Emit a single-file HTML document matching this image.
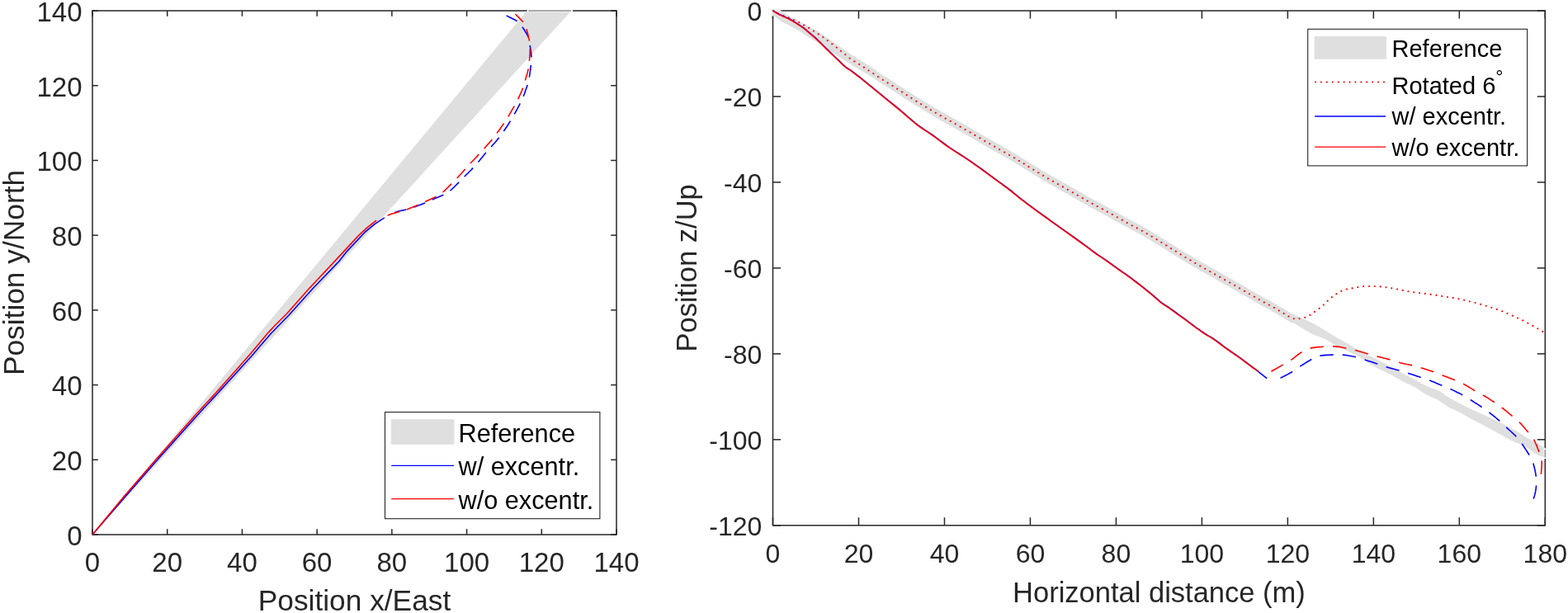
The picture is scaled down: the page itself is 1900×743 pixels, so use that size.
<!DOCTYPE html><html><head><meta charset="utf-8"><title>Figure</title><style>html,body{margin:0;padding:0;background:#fff;}body{width:1900px;height:743px;overflow:hidden;}svg{display:block;}text{font-family:"Liberation Sans",Arial,Helvetica,sans-serif;fill:#262626;}</style></head><body>
<svg width="1900" height="743" viewBox="0 0 1900 743">
<rect width="1900" height="743" fill="#fff"/>
<g stroke="#262626" stroke-width="1.5"><line x1="112.00" y1="648.0" x2="112.00" y2="641.2"/>
<line x1="112.00" y1="13.0" x2="112.00" y2="19.8"/>
<line x1="202.71" y1="648.0" x2="202.71" y2="641.2"/>
<line x1="202.71" y1="13.0" x2="202.71" y2="19.8"/>
<line x1="293.43" y1="648.0" x2="293.43" y2="641.2"/>
<line x1="293.43" y1="13.0" x2="293.43" y2="19.8"/>
<line x1="384.14" y1="648.0" x2="384.14" y2="641.2"/>
<line x1="384.14" y1="13.0" x2="384.14" y2="19.8"/>
<line x1="474.86" y1="648.0" x2="474.86" y2="641.2"/>
<line x1="474.86" y1="13.0" x2="474.86" y2="19.8"/>
<line x1="565.57" y1="648.0" x2="565.57" y2="641.2"/>
<line x1="565.57" y1="13.0" x2="565.57" y2="19.8"/>
<line x1="656.29" y1="648.0" x2="656.29" y2="641.2"/>
<line x1="656.29" y1="13.0" x2="656.29" y2="19.8"/>
<line x1="747.00" y1="648.0" x2="747.00" y2="641.2"/>
<line x1="747.00" y1="13.0" x2="747.00" y2="19.8"/>
<line x1="112.0" y1="648.00" x2="118.8" y2="648.00"/>
<line x1="747.0" y1="648.00" x2="740.2" y2="648.00"/>
<line x1="112.0" y1="557.29" x2="118.8" y2="557.29"/>
<line x1="747.0" y1="557.29" x2="740.2" y2="557.29"/>
<line x1="112.0" y1="466.57" x2="118.8" y2="466.57"/>
<line x1="747.0" y1="466.57" x2="740.2" y2="466.57"/>
<line x1="112.0" y1="375.86" x2="118.8" y2="375.86"/>
<line x1="747.0" y1="375.86" x2="740.2" y2="375.86"/>
<line x1="112.0" y1="285.14" x2="118.8" y2="285.14"/>
<line x1="747.0" y1="285.14" x2="740.2" y2="285.14"/>
<line x1="112.0" y1="194.43" x2="118.8" y2="194.43"/>
<line x1="747.0" y1="194.43" x2="740.2" y2="194.43"/>
<line x1="112.0" y1="103.71" x2="118.8" y2="103.71"/>
<line x1="747.0" y1="103.71" x2="740.2" y2="103.71"/>
<line x1="112.0" y1="13.00" x2="118.8" y2="13.00"/>
<line x1="747.0" y1="13.00" x2="740.2" y2="13.00"/></g>
<rect x="112.0" y="13.0" width="635.00" height="635.00" fill="none" stroke="#262626" stroke-width="1.5"/>
<polygon points="112.0,648.0 638.5,13.0 692.5,13.0" fill="#dfdfdf"/>
<rect x="638.9" y="11.8" width="55" height="2.6" fill="#fff"/>
<line x1="640.5" y1="13" x2="691.9" y2="13" stroke="#8e8e8e" stroke-width="1.5"/>
<line x1="640.5" y1="14.6" x2="691.5" y2="14.6" stroke="#ececec" stroke-width="1"/>
<polyline points="112.0,648.0 150.5,603.6 188.4,560.0 242.4,499.7 263.4,477.1 306.5,429.7 315.1,419.6 328.8,403.7 349.8,382.2 379.0,349.8 410.2,317.4 420.4,304.6 441.9,281.7 454.0,271.6 465.9,263.9" fill="none" stroke="#0000ff" stroke-width="1.6" stroke-linejoin="round"/>
<polyline points="112.0,648.0 150.0,602.0 186.3,560.0 239.7,499.7 261.2,476.5 302.7,429.7 311.3,419.6 325.1,403.1 333.1,394.5 347.7,380.0 374.5,349.8 404.9,317.4 434.6,285.4 444.6,276.2 456.0,267.2" fill="none" stroke="#ff0000" stroke-width="1.6" stroke-linejoin="round"/>
<polyline points="469.5,262.1 469.6,262.0 472.2,260.6 474.9,259.3 477.6,258.0 480.0,257.0 482.2,256.3 484.3,255.7 486.3,255.3 488.3,254.9 490.3,254.5 492.2,254.0 494.1,253.5 495.8,252.9 497.6,252.4 499.3,251.8 501.1,251.2 503.1,250.5 505.3,249.7 507.7,248.8 510.1,247.9 512.5,247.0 514.8,246.1 516.8,245.3 518.5,244.6 519.8,243.9 521.1,243.3 522.3,242.7 523.7,242.1 525.3,241.3 527.3,240.4 529.6,239.5 532.0,238.6 534.4,237.6 536.6,236.6 538.6,235.6 540.2,234.7 541.6,233.9 542.8,233.1 544.0,232.2 545.3,231.2 546.7,230.0 548.4,228.5 550.2,226.8 552.0,225.0 553.9,223.1 555.6,221.4 557.2,219.8 558.5,218.5 559.6,217.4 560.5,216.4 561.5,215.4 562.5,214.3 563.8,213.0 565.3,211.5 567.1,209.8 568.9,208.0 570.7,206.2 572.4,204.4 573.9,202.9 575.1,201.6 576.1,200.5 577.0,199.4 577.9,198.4 578.8,197.2 580.0,195.8 581.3,194.2 582.7,192.5 584.2,190.7 585.8,188.8 587.5,186.6 589.5,184.3 591.8,181.7 594.3,178.9 597.0,175.8 599.8,172.7 602.5,169.4 605.1,166.2 607.6,162.9 610.0,159.5 612.4,156.0 614.8,152.5 617.0,149.0 619.2,145.5 621.3,141.9 623.4,138.2 625.5,134.5 627.4,130.9 629.1,127.7 630.5,124.9 631.6,122.8 632.4,121.1 633.0,119.9 633.5,118.7 634.0,117.3 634.6,115.7 635.4,113.7 636.2,111.4 637.1,109.0 637.9,106.6 638.7,104.4 639.3,102.3 639.8,100.5 640.2,99.0 640.6,97.5 640.9,96.0 641.2,94.4 641.5,92.6 641.9,90.4 642.2,88.0 642.6,85.4 642.9,82.8 643.2,80.4 643.4,78.2 643.6,76.3 643.8,74.7 643.9,73.2 644.0,71.7 644.0,70.1 643.9,68.3 643.7,66.2 643.5,63.8 643.2,61.3 642.8,58.8 642.4,56.4 642.1,54.3 641.8,52.5 641.6,50.9 641.4,49.4 641.1,48.0 640.7,46.4 640.0,44.7 639.1,42.7 637.9,40.5 636.6,38.3 635.2,36.0 633.8,34.0 632.6,32.2 631.6,30.7 630.6,29.5 629.8,28.5 628.8,27.5 627.6,26.6 626.2,25.5 624.3,24.3 621.8,23.0 619.2,21.7 616.7,20.5 614.6,19.4 613.1,18.7" fill="none" stroke="#0000ff" stroke-width="1.6" stroke-dasharray="14.8 9.5" stroke-linejoin="round" stroke-dashoffset="14.8"/>
<polyline points="466.1,263.5 466.3,263.2 466.6,262.9 466.9,262.5 467.4,262.1 468.3,261.6 469.5,261.0 471.3,260.4 473.6,259.6 476.3,258.8 479.0,258.0 481.5,257.3 483.7,256.6 485.4,256.1 486.9,255.7 488.2,255.4 489.5,255.0 490.9,254.6 492.6,254.0 494.7,253.2 497.0,252.3 499.5,251.3 501.9,250.3 504.2,249.4 506.3,248.5 508.0,247.8 509.5,247.1 510.8,246.5 512.1,245.9 513.5,245.3 515.2,244.5 517.2,243.6 519.4,242.6 521.7,241.5 524.0,240.4 526.2,239.4 528.1,238.4 529.7,237.5 531.1,236.8 532.3,236.1 533.5,235.3 534.8,234.3 536.2,233.2 537.9,231.8 539.7,230.1 541.6,228.2 543.4,226.4 545.2,224.6 546.7,223.1 548.0,221.9 549.0,220.8 549.9,219.9 550.9,219.0 551.9,217.9 553.1,216.6 554.6,215.0 556.3,213.1 558.1,211.2 559.9,209.2 561.6,207.3 563.1,205.6 564.4,204.2 565.5,203.0 566.5,201.9 567.5,200.7 568.5,199.6 569.8,198.2 571.2,196.7 572.6,195.3 574.1,193.7 575.7,192.0 577.5,190.1 579.5,187.9 581.8,185.4 584.4,182.5 587.2,179.5 590.0,176.3 592.8,173.1 595.5,169.9 598.1,166.7 600.6,163.4 603.1,160.1 605.6,156.7 608.0,153.3 610.3,149.9 612.6,146.3 615.0,142.6 617.3,138.8 619.4,135.2 621.3,131.9 622.9,129.2 624.1,127.2 624.9,125.8 625.5,124.7 625.9,123.7 626.5,122.6 627.2,121.1 628.1,119.1 629.2,116.9 630.3,114.5 631.4,112.1 632.4,109.8 633.2,107.7 633.9,106.0 634.4,104.5 634.8,103.1 635.2,101.8 635.6,100.3 636.1,98.5 636.7,96.4 637.4,94.0 638.1,91.5 638.9,89.0 639.5,86.6 640.0,84.5 640.4,82.7 640.6,81.1 640.8,79.7 641.0,78.2 641.1,76.7 641.3,74.8 641.5,72.6 641.7,70.1 641.9,67.5 642.1,64.9 642.2,62.4 642.3,60.2 642.3,58.4 642.3,56.8 642.3,55.4 642.2,54.0 642.0,52.5 641.7,50.7 641.3,48.6 640.8,46.1 640.2,43.6 639.6,41.1 638.9,38.7 638.3,36.6 637.8,34.8 637.3,33.3 636.9,32.0 636.3,30.7 635.6,29.3 634.6,27.8 633.2,26.0 631.3,24.0 629.3,21.9 627.4,19.9 625.7,18.3 624.5,17.1" fill="none" stroke="#ff0000" stroke-width="1.6" stroke-dasharray="14.8 9.5" stroke-linejoin="round" stroke-dashoffset="20"/>
<g font-size="33.0"><text x="112.00" y="693.3" text-anchor="middle">0</text>
<text x="202.71" y="693.3" text-anchor="middle">20</text>
<text x="293.43" y="693.3" text-anchor="middle">40</text>
<text x="384.14" y="693.3" text-anchor="middle">60</text>
<text x="474.86" y="693.3" text-anchor="middle">80</text>
<text x="565.57" y="693.3" text-anchor="middle">100</text>
<text x="656.29" y="693.3" text-anchor="middle">120</text>
<text x="747.00" y="693.3" text-anchor="middle">140</text>
<text x="99.5" y="660.81" text-anchor="end">0</text>
<text x="99.5" y="570.10" text-anchor="end">20</text>
<text x="99.5" y="479.39" text-anchor="end">40</text>
<text x="99.5" y="388.67" text-anchor="end">60</text>
<text x="99.5" y="297.96" text-anchor="end">80</text>
<text x="99.5" y="207.24" text-anchor="end">100</text>
<text x="99.5" y="116.53" text-anchor="end">120</text>
<text x="99.5" y="25.81" text-anchor="end">140</text>
<text x="429.50" y="739.6" text-anchor="middle" font-size="35.3">Position x/East</text>
<text transform="translate(28.5,330.50) rotate(-90)" x="0" y="0" text-anchor="middle" font-size="35.3">Position y/North</text></g>
<rect x="466.5" y="499.5" width="260.4" height="129.2" fill="#fff" stroke="#262626" stroke-width="1.1"/>
<rect x="473.8" y="508.2" width="76.7" height="30.6" fill="#dfdfdf"/>
<line x1="474.2" y1="564.3" x2="549.9" y2="564.3" stroke="#0000ff" stroke-width="1.3"/>
<line x1="474.2" y1="604.7" x2="549.9" y2="604.7" stroke="#ff0000" stroke-width="1.3"/>
<g font-size="30.7" style="fill:#000"><text x="555.5" y="536" style="fill:#000">Reference</text><text x="555.5" y="576.4" style="fill:#000">w/ excentr.</text><text x="555.5" y="616.8" style="fill:#000">w/o excentr.</text></g>
<g stroke="#262626" stroke-width="1.5"><line x1="936.50" y1="636.8" x2="936.50" y2="627.1999999999999"/>
<line x1="936.50" y1="13.0" x2="936.50" y2="22.6"/>
<line x1="1040.48" y1="636.8" x2="1040.48" y2="627.1999999999999"/>
<line x1="1040.48" y1="13.0" x2="1040.48" y2="22.6"/>
<line x1="1144.46" y1="636.8" x2="1144.46" y2="627.1999999999999"/>
<line x1="1144.46" y1="13.0" x2="1144.46" y2="22.6"/>
<line x1="1248.43" y1="636.8" x2="1248.43" y2="627.1999999999999"/>
<line x1="1248.43" y1="13.0" x2="1248.43" y2="22.6"/>
<line x1="1352.41" y1="636.8" x2="1352.41" y2="627.1999999999999"/>
<line x1="1352.41" y1="13.0" x2="1352.41" y2="22.6"/>
<line x1="1456.39" y1="636.8" x2="1456.39" y2="627.1999999999999"/>
<line x1="1456.39" y1="13.0" x2="1456.39" y2="22.6"/>
<line x1="1560.37" y1="636.8" x2="1560.37" y2="627.1999999999999"/>
<line x1="1560.37" y1="13.0" x2="1560.37" y2="22.6"/>
<line x1="1664.34" y1="636.8" x2="1664.34" y2="627.1999999999999"/>
<line x1="1664.34" y1="13.0" x2="1664.34" y2="22.6"/>
<line x1="1768.32" y1="636.8" x2="1768.32" y2="627.1999999999999"/>
<line x1="1768.32" y1="13.0" x2="1768.32" y2="22.6"/>
<line x1="1872.30" y1="636.8" x2="1872.30" y2="627.1999999999999"/>
<line x1="1872.30" y1="13.0" x2="1872.30" y2="22.6"/>
<line x1="936.5" y1="13.00" x2="946.1" y2="13.00"/>
<line x1="1872.3" y1="13.00" x2="1862.7" y2="13.00"/>
<line x1="936.5" y1="116.97" x2="946.1" y2="116.97"/>
<line x1="1872.3" y1="116.97" x2="1862.7" y2="116.97"/>
<line x1="936.5" y1="220.93" x2="946.1" y2="220.93"/>
<line x1="1872.3" y1="220.93" x2="1862.7" y2="220.93"/>
<line x1="936.5" y1="324.90" x2="946.1" y2="324.90"/>
<line x1="1872.3" y1="324.90" x2="1862.7" y2="324.90"/>
<line x1="936.5" y1="428.87" x2="946.1" y2="428.87"/>
<line x1="1872.3" y1="428.87" x2="1862.7" y2="428.87"/>
<line x1="936.5" y1="532.83" x2="946.1" y2="532.83"/>
<line x1="1872.3" y1="532.83" x2="1862.7" y2="532.83"/>
<line x1="936.5" y1="636.80" x2="946.1" y2="636.80"/>
<line x1="1872.3" y1="636.80" x2="1862.7" y2="636.80"/></g>
<rect x="936.5" y="13.0" width="935.80" height="623.80" fill="none" stroke="#262626" stroke-width="1.5"/>
<clipPath id="cr"><rect x="936.5" y="13.0" width="935.80" height="623.80"/></clipPath>
<polygon points="935.0,12.0 947.1,13.2 955.2,18.9 967.3,25.3 979.4,31.8 991.5,38.3 1000.6,44.6 1010.7,51.4 1020.0,58.5 1030.0,65.0 1045.0,74.5 1060.4,84.3 1062.6,86.5 1063.4,87.0 1064.4,87.7 1065.7,88.5 1067.1,89.4 1068.7,90.4 1070.4,91.5 1072.3,92.6 1074.2,93.8 1076.2,95.1 1078.3,96.4 1080.3,97.7 1082.4,99.0 1084.5,100.3 1086.6,101.7 1088.8,103.2 1091.0,104.6 1093.3,106.1 1095.7,107.7 1098.1,109.2 1100.6,110.8 1103.1,112.5 1105.7,114.1 1108.4,115.8 1111.3,117.6 1114.3,119.4 1117.3,121.3 1120.4,123.2 1123.5,125.0 1126.6,126.9 1129.6,128.7 1132.4,130.4 1135.2,132.0 1137.8,133.5 1140.4,135.0 1142.8,136.4 1145.2,137.7 1147.6,139.0 1149.9,140.3 1152.2,141.6 1154.5,142.9 1156.8,144.2 1159.2,145.5 1161.6,146.9 1164.0,148.2 1166.4,149.6 1168.7,151.0 1171.1,152.3 1173.5,153.7 1175.9,155.1 1178.2,156.4 1180.6,157.8 1183.0,159.2 1185.4,160.6 1187.8,162.0 1190.2,163.4 1192.6,164.8 1194.9,166.2 1197.3,167.5 1199.7,168.9 1202.1,170.3 1204.5,171.7 1206.9,173.1 1209.3,174.5 1211.8,175.9 1214.3,177.3 1216.8,178.7 1219.2,180.1 1221.7,181.5 1224.1,182.9 1226.4,184.2 1228.7,185.5 1230.8,186.8 1232.8,188.0 1234.6,189.1 1236.4,190.2 1238.0,191.2 1239.6,192.2 1241.2,193.2 1242.9,194.3 1244.6,195.3 1246.4,196.5 1248.4,197.7 1250.5,199.0 1252.7,200.4 1255.1,201.8 1257.4,203.2 1259.9,204.7 1262.3,206.2 1264.8,207.7 1267.2,209.1 1269.7,210.6 1272.1,212.0 1274.5,213.4 1276.9,214.7 1279.3,216.1 1281.7,217.4 1284.1,218.8 1286.5,220.1 1288.9,221.5 1291.3,222.8 1293.7,224.1 1296.1,225.5 1298.5,226.9 1300.9,228.2 1303.3,229.6 1305.7,231.0 1308.0,232.4 1310.4,233.8 1312.8,235.1 1315.2,236.5 1317.6,237.9 1320.0,239.2 1322.4,240.5 1324.8,241.9 1327.3,243.2 1329.7,244.5 1332.1,245.8 1334.5,247.1 1336.9,248.4 1339.3,249.6 1341.7,250.9 1344.0,252.2 1346.3,253.5 1348.6,254.7 1350.8,256.0 1353.0,257.3 1355.2,258.5 1357.4,259.8 1359.6,261.0 1361.7,262.2 1363.9,263.4 1366.0,264.6 1368.1,265.7 1370.1,266.8 1372.1,267.9 1374.1,268.9 1376.1,270.0 1378.1,271.0 1380.1,272.1 1382.1,273.2 1384.2,274.4 1386.4,275.6 1388.6,276.9 1390.9,278.2 1393.3,279.6 1395.6,281.0 1398.0,282.5 1400.4,283.9 1402.8,285.4 1405.2,286.9 1407.6,288.3 1410.0,289.8 1412.3,291.3 1414.7,292.7 1417.0,294.2 1419.4,295.7 1421.7,297.2 1424.0,298.7 1426.4,300.1 1428.7,301.6 1431.0,303.1 1433.4,304.5 1435.8,305.9 1438.1,307.3 1440.5,308.7 1442.9,310.1 1445.3,311.5 1447.7,312.9 1450.0,314.3 1452.4,315.7 1454.8,317.0 1457.2,318.4 1459.6,319.8 1462.0,321.1 1464.4,322.4 1466.7,323.8 1469.1,325.1 1471.5,326.4 1473.9,327.8 1476.3,329.1 1478.7,330.5 1481.1,331.8 1483.5,333.2 1485.9,334.5 1488.3,335.9 1490.7,337.3 1493.1,338.6 1495.5,340.0 1497.9,341.4 1500.3,342.7 1502.7,344.1 1505.1,345.5 1507.5,346.9 1510.1,348.4 1512.6,349.9 1515.2,351.4 1517.7,352.9 1520.2,354.3 1522.6,355.7 1524.9,357.0 1527.0,358.2 1528.9,359.3 1530.6,360.2 1532.1,361.0 1533.4,361.7 1534.6,362.4 1535.7,362.9 1536.8,363.4 1537.8,364.0 1538.9,364.5 1539.9,365.1 1541.1,365.7 1542.3,366.4 1543.5,367.1 1544.7,367.8 1545.9,368.5 1547.1,369.3 1548.3,370.0 1549.5,370.7 1550.7,371.5 1551.9,372.2 1553.1,372.9 1554.3,373.6 1555.6,374.4 1556.9,375.2 1558.1,376.0 1559.4,376.7 1560.7,377.5 1561.9,378.2 1563.0,378.8 1564.0,379.4 1565.0,379.8 1566.9,380.5 1569.8,381.8 1574.0,383.7 1578.7,385.9 1583.1,388.0 1587.0,390.0 1590.9,392.0 1594.8,394.1 1599.2,396.6 1604.2,399.6 1609.6,402.9 1615.0,406.2 1620.0,409.2 1624.4,411.7 1628.4,413.9 1632.3,416.1 1636.2,418.3 1640.2,420.7 1644.3,423.2 1648.3,425.7 1652.3,428.0 1656.3,430.0 1660.4,431.8 1664.5,433.6 1668.5,435.5 1672.5,437.6 1676.6,439.7 1680.6,441.9 1684.6,444.1 1688.2,446.0 1691.6,447.8 1695.3,449.9 1700.0,452.4 1706.4,455.9 1714.0,460.1 1721.6,464.2 1728.0,467.5 1732.7,469.6 1736.5,470.9 1739.8,472.0 1743.1,473.4 1746.2,475.3 1749.0,477.3 1752.0,479.5 1756.0,482.0 1761.2,484.9 1767.1,488.2 1773.5,491.6 1780.0,494.8 1786.5,497.8 1793.3,500.8 1800.1,503.8 1806.9,506.9 1813.8,510.2 1820.9,513.7 1827.7,517.2 1833.8,520.4 1838.7,523.2 1842.7,525.8 1846.7,528.3 1851.3,531.1 1857.3,534.6 1864.2,538.5 1870.6,542.0 1875.0,544.5 1875.0,556.0 1872.4,555.0 1868.7,553.6 1864.6,551.9 1860.8,550.0 1857.4,547.8 1854.2,545.4 1850.8,542.8 1847.3,540.6 1843.6,538.9 1839.9,537.4 1835.8,535.9 1831.1,533.8 1825.7,530.9 1819.7,527.6 1813.3,524.0 1806.9,520.4 1800.0,516.7 1792.6,512.8 1785.6,509.2 1780.0,506.2 1776.4,504.2 1774.3,502.8 1772.5,501.7 1770.0,500.3 1766.5,498.7 1762.6,496.9 1758.6,495.2 1754.9,493.3 1751.8,491.3 1749.0,489.3 1746.2,487.2 1743.1,485.2 1739.5,483.4 1735.7,481.8 1731.8,480.1 1728.0,478.2 1724.4,476.0 1720.9,473.6 1717.5,471.2 1714.0,469.1 1710.5,467.3 1707.1,465.8 1703.6,464.3 1700.0,462.6 1696.4,460.6 1692.8,458.5 1688.9,456.2 1684.6,453.8 1679.5,451.3 1673.9,448.6 1668.2,445.8 1663.1,443.1 1658.9,440.5 1655.3,437.8 1651.6,435.2 1646.9,432.3 1640.7,429.1 1633.4,425.7 1626.2,422.4 1620.0,419.4 1615.4,416.9 1611.6,414.6 1608.2,412.5 1604.6,410.6 1600.7,408.9 1596.8,407.5 1592.8,406.0 1588.5,404.1 1583.4,401.2 1577.8,397.8 1572.7,394.5 1569.1,392.3 1565.0,391.0 1564.0,390.6 1563.0,390.0 1561.9,389.4 1560.7,388.7 1559.4,387.9 1558.1,387.2 1556.9,386.4 1555.6,385.6 1554.3,384.8 1553.1,384.1 1551.9,383.4 1550.7,382.7 1549.5,381.9 1548.3,381.2 1547.1,380.5 1545.9,379.7 1544.7,379.0 1543.5,378.3 1542.3,377.6 1541.1,376.9 1539.9,376.3 1538.9,375.7 1537.8,375.2 1536.8,374.6 1535.7,374.1 1534.6,373.6 1533.4,372.9 1532.1,372.2 1530.6,371.4 1528.9,370.5 1527.0,369.4 1524.9,368.2 1522.6,366.9 1520.2,365.5 1517.7,364.1 1515.2,362.6 1512.6,361.1 1510.1,359.6 1507.5,358.1 1505.1,356.7 1502.7,355.3 1500.3,353.9 1497.9,352.6 1495.5,351.2 1493.1,349.8 1490.7,348.5 1488.3,347.1 1485.9,345.7 1483.5,344.4 1481.1,343.0 1478.7,341.7 1476.3,340.3 1473.9,339.0 1471.5,337.6 1469.1,336.3 1466.7,335.0 1464.4,333.6 1462.0,332.3 1459.6,331.0 1457.2,329.6 1454.8,328.2 1452.4,326.9 1450.0,325.5 1447.7,324.1 1445.3,322.7 1442.9,321.3 1440.5,319.9 1438.1,318.5 1435.8,317.1 1433.4,315.7 1431.0,314.3 1428.7,312.8 1426.4,311.3 1424.0,309.9 1421.7,308.4 1419.4,306.9 1417.0,305.4 1414.7,303.9 1412.3,302.5 1410.0,301.0 1407.6,299.5 1405.2,298.1 1402.8,296.6 1400.4,295.1 1398.0,293.7 1395.6,292.2 1393.3,290.8 1390.9,289.4 1388.6,288.1 1386.4,286.8 1384.2,285.6 1382.1,284.4 1380.1,283.3 1378.1,282.2 1376.1,281.2 1374.1,280.1 1372.1,279.1 1370.1,278.0 1368.1,276.9 1366.0,275.8 1363.9,274.6 1361.7,273.4 1359.6,272.2 1357.4,271.0 1355.2,269.7 1353.0,268.5 1350.8,267.2 1348.6,265.9 1346.3,264.7 1344.0,263.4 1341.7,262.1 1339.3,260.8 1336.9,259.6 1334.5,258.3 1332.1,257.0 1329.7,255.7 1327.3,254.4 1324.8,253.1 1322.4,251.7 1320.0,250.4 1317.6,249.1 1315.2,247.7 1312.8,246.3 1310.4,245.0 1308.0,243.6 1305.7,242.2 1303.3,240.8 1300.9,239.4 1298.5,238.1 1296.1,236.7 1293.7,235.3 1291.3,234.0 1288.9,232.7 1286.5,231.3 1284.1,230.0 1281.7,228.6 1279.3,227.3 1276.9,225.9 1274.5,224.6 1272.1,223.2 1269.7,221.8 1267.2,220.3 1264.8,218.9 1262.3,217.4 1259.9,215.9 1257.4,214.4 1255.1,213.0 1252.7,211.6 1250.5,210.2 1248.4,208.9 1246.4,207.7 1244.6,206.5 1242.9,205.5 1241.2,204.4 1239.6,203.4 1238.0,202.4 1236.4,201.4 1234.6,200.3 1232.8,199.2 1230.8,198.0 1228.7,196.7 1226.4,195.4 1224.1,194.1 1221.7,192.7 1219.2,191.3 1216.8,189.9 1214.3,188.5 1211.8,187.1 1209.3,185.7 1206.9,184.3 1204.5,182.9 1202.1,181.5 1199.7,180.1 1197.3,178.7 1194.9,177.4 1192.6,176.0 1190.2,174.6 1187.8,173.2 1185.4,171.8 1183.0,170.4 1180.6,169.0 1178.2,167.6 1175.9,166.3 1173.5,164.9 1171.1,163.5 1168.7,162.2 1166.4,160.8 1164.0,159.4 1161.6,158.1 1159.2,156.7 1156.8,155.4 1154.5,154.1 1152.2,152.8 1149.9,151.5 1147.6,150.2 1145.2,148.9 1142.8,147.6 1140.4,146.2 1137.8,144.7 1135.2,143.2 1132.4,141.6 1129.6,139.9 1126.6,138.1 1123.5,136.2 1120.4,134.3 1117.3,132.5 1114.3,130.6 1111.3,128.8 1108.4,127.0 1105.7,125.3 1103.1,123.7 1100.6,122.0 1098.1,120.4 1095.7,118.9 1093.3,117.3 1091.0,115.8 1088.8,114.4 1086.6,112.9 1084.5,111.5 1082.4,110.2 1080.3,108.9 1078.3,107.6 1076.2,106.3 1074.2,105.0 1072.3,103.8 1070.4,102.7 1068.7,101.6 1067.1,100.6 1065.7,99.7 1064.4,98.9 1063.4,98.2 1062.6,97.7 1060.4,95.4 1040.0,83.5 1020.0,71.2 1005.0,61.0 991.5,52.0 979.4,44.7 967.3,36.7 955.2,30.2 947.1,26.2 935.0,17.0" fill="#dfdfdf" clip-path="url(#cr)"/>
<rect x="1870.6" y="543.5" width="3.4" height="12.5" fill="#fff"/>
<line x1="1872.3" y1="545" x2="1872.3" y2="554.5" stroke="#8e8e8e" stroke-width="1.5"/>
<rect x="935" y="11.5" width="11" height="3" fill="#e6e6e6"/>
<rect x="935" y="11.5" width="3" height="8" fill="#e6e6e6"/>
<polyline points="937.0,13.0 937.7,13.4 938.6,13.9 939.7,14.6 940.8,15.3 942.0,15.9 943.1,16.5 944.1,17.0 945.2,17.5 946.2,18.0 947.3,18.4 948.3,18.9 949.4,19.3 950.5,19.7 951.6,20.1 952.8,20.5 954.0,20.8 955.1,21.2 956.2,21.6 957.3,22.0 958.3,22.5 959.4,23.0 960.4,23.4 961.5,23.9 962.5,24.4 963.6,24.9 964.6,25.4 965.7,25.9 966.7,26.4 967.8,26.9 968.8,27.4 969.8,27.9 970.8,28.5 971.7,29.1 972.7,29.7 973.6,30.2 974.6,30.8 975.6,31.4 976.6,31.9 977.6,32.4 978.6,33.0 979.6,33.5 980.6,34.1 981.6,34.7 982.6,35.3 983.6,36.0 984.6,36.6 985.5,37.3 986.5,37.9 987.5,38.5 988.4,39.2 989.4,39.8 990.3,40.4 991.3,41.1 992.2,41.7 993.2,42.3 994.1,42.9 995.1,43.5 996.0,44.1 997.0,44.7 997.9,45.4 998.8,46.1 999.8,46.8 1000.7,47.5 1001.7,48.3 1002.6,49.0 1003.5,49.7 1004.4,50.4 1005.3,51.1 1006.2,51.8 1007.1,52.4 1008.0,53.1 1008.9,53.8 1009.8,54.5 1010.7,55.2 1011.6,55.9 1012.5,56.6 1013.4,57.3 1014.3,58.0 1015.2,58.7 1016.1,59.5 1017.0,60.2 1017.9,60.9 1018.8,61.7 1019.7,62.4 1020.6,63.1 1021.5,63.8 1022.4,64.5 1023.3,65.3 1024.2,66.0 1025.1,66.7 1026.0,67.4 1026.9,68.2 1027.7,69.0 1028.6,69.7 1029.5,70.5 1030.4,71.2 1031.3,71.9 1032.3,72.5 1033.2,73.2 1034.2,73.8 1035.1,74.4 1036.1,75.0 1037.1,75.6 1038.1,76.1 1039.1,76.7 1040.1,77.3 1041.1,77.8 1042.1,78.4 1043.1,79.0 1044.0,79.6 1045.0,80.3 1045.9,80.9 1046.8,81.6 1047.8,82.2 1048.8,82.8 1049.7,83.5 1050.7,84.2 1051.7,84.8 1052.6,85.5 1053.6,86.1 1054.6,86.7 1055.5,87.3 1056.5,87.9 1057.4,88.5 1058.4,89.1 1059.3,89.7 1060.0,90.2 1060.6,90.6 1061.1,91.0 1061.8,91.5 1062.8,92.3 1064.4,93.3 1066.6,94.7 1069.2,96.4 1072.3,98.2 1075.5,100.3 1078.9,102.4 1082.4,104.6 1085.9,106.9 1089.5,109.2 1093.3,111.7 1097.3,114.3 1101.4,117.0 1105.7,119.7 1110.3,122.6 1115.3,125.6 1120.4,128.8 1125.5,131.9 1130.5,134.8 1135.2,137.6 1139.5,140.1 1143.6,142.4 1147.6,144.6 1151.4,146.7 1155.3,148.9 1159.2,151.1 1163.2,153.4 1167.1,155.6 1171.1,157.9 1175.1,160.2 1179.0,162.5 1183.0,164.8 1187.0,167.1 1191.0,169.4 1194.9,171.8 1198.9,174.1 1202.9,176.4 1206.9,178.7 1211.0,181.0 1215.1,183.4 1219.2,185.7 1223.3,188.0 1227.2,190.3 1230.8,192.4 1234.0,194.3 1236.9,196.1 1239.6,197.8 1242.3,199.5 1245.2,201.3 1248.4,203.3 1252.0,205.5 1255.8,207.8 1259.9,210.3 1264.0,212.8 1268.1,215.2 1272.1,217.6 1276.1,219.9 1280.1,222.2 1284.1,224.4 1288.1,226.6 1292.1,228.8 1296.1,231.1 1300.1,233.4 1304.1,235.7 1308.0,238.0 1312.0,240.3 1316.0,242.6 1320.0,244.8 1324.0,247.0 1328.1,249.2 1332.1,251.4 1336.1,253.5 1340.1,255.7 1344.0,257.8 1347.8,259.9 1351.5,262.0 1355.2,264.1 1358.9,266.2 1362.4,268.2 1366.0,270.2 1369.5,272.1 1372.8,273.9 1376.1,275.6 1379.4,277.3 1382.8,279.2 1386.4,281.2 1390.2,283.4 1394.0,285.7 1398.0,288.1 1402.0,290.5 1406.0,293.0 1410.0,295.4 1413.9,297.8 1417.8,300.3 1421.7,302.8 1425.6,305.2 1429.5,307.7 1433.4,310.1 1437.3,312.5 1441.3,314.8 1445.3,317.1 1449.2,319.4 1453.2,321.7 1457.2,324.0 1461.2,326.3 1465.2,328.5 1469.1,330.7 1473.1,332.9 1477.1,335.2 1481.1,337.4 1485.1,339.7 1489.1,341.9 1493.1,344.2 1497.1,346.5 1501.1,348.8 1505.1,351.1 1509.2,353.5 1513.5,356.0 1517.7,358.5 1521.8,360.8 1525.6,363.0 1528.9,364.9 1531.6,366.4 1533.8,367.6 1535.7,368.5 1537.5,369.4 1539.2,370.3 1541.1,371.3 1543.1,372.5 1545.1,373.7 1547.1,374.9 1549.1,376.1 1551.1,377.3 1553.1,378.5 1555.2,379.7 1557.3,381.0 1559.4,382.3 1561.5,383.5 1563.3,384.6 1565.0,385.4 1566.4,385.9 1567.5,386.2 1568.4,386.4 1569.3,386.4 1570.2,386.4 1571.2,386.4 1572.3,386.4 1573.4,386.3 1574.5,386.2 1575.7,386.0 1576.8,385.8 1577.9,385.6 1579.0,385.4 1580.1,385.1 1581.3,384.8 1582.4,384.5 1583.5,384.1 1584.5,383.7 1585.5,383.2 1586.5,382.6 1587.4,381.9 1588.3,381.2 1589.3,380.5 1590.2,379.8 1591.1,379.1 1592.1,378.5 1593.0,377.8 1593.9,377.1 1594.9,376.5 1595.8,375.8 1596.7,375.1 1597.7,374.5 1598.6,373.8 1599.6,373.1 1600.5,372.4 1601.4,371.7 1602.3,370.9 1603.1,370.1 1603.9,369.3 1604.8,368.5 1605.6,367.7 1606.4,366.9 1607.2,366.1 1608.0,365.3 1608.8,364.5 1609.6,363.7 1610.4,363.0 1611.3,362.2 1612.2,361.5 1613.1,360.7 1614.0,360.0 1614.9,359.3 1615.9,358.6 1616.8,357.9 1617.7,357.3 1618.7,356.6 1619.7,356.0 1620.6,355.4 1621.6,354.9 1622.6,354.3 1623.6,353.7 1624.6,353.2 1625.6,352.7 1626.6,352.2 1627.6,351.7 1628.7,351.3 1629.8,351.0 1630.9,350.7 1632.1,350.5 1633.2,350.3 1634.4,350.1 1635.5,349.9 1636.6,349.7 1637.8,349.5 1639.0,349.3 1640.1,349.1 1641.3,348.9 1642.4,348.7 1643.5,348.5 1644.6,348.2 1645.7,348.0 1646.8,347.8 1647.9,347.6 1649.0,347.4 1650.1,347.3 1651.3,347.2 1652.4,347.1 1653.6,347.1 1654.7,347.0 1655.9,347.0 1657.1,347.0 1658.2,347.0 1659.4,347.0 1660.6,347.0 1661.7,347.0 1662.9,347.0 1664.0,347.0 1665.2,347.0 1666.3,347.0 1667.4,347.0 1668.6,347.0 1669.7,347.1 1670.8,347.2 1672.0,347.3 1673.2,347.4 1674.3,347.5 1675.5,347.7 1676.6,347.8 1677.7,348.0 1678.9,348.1 1680.0,348.3 1681.1,348.5 1682.3,348.7 1683.4,348.9 1684.5,349.1 1685.7,349.2 1686.8,349.4 1687.9,349.5 1689.1,349.7 1690.2,349.9 1691.3,350.1 1692.2,350.3 1693.2,350.5 1694.2,350.7 1695.5,351.0 1697.0,351.3 1698.9,351.7 1701.0,352.1 1703.4,352.6 1705.8,353.1 1708.3,353.5 1710.6,353.9 1712.9,354.2 1715.1,354.5 1717.4,354.7 1719.7,355.0 1721.9,355.2 1724.2,355.5 1726.5,355.8 1728.8,356.1 1731.0,356.5 1733.3,356.8 1735.6,357.2 1737.9,357.5 1740.2,357.8 1742.4,358.2 1744.7,358.5 1747.0,358.9 1749.2,359.2 1751.5,359.6 1753.8,360.0 1756.0,360.3 1758.3,360.6 1760.6,361.0 1762.8,361.4 1765.1,361.8 1767.4,362.3 1769.6,362.8 1771.9,363.3 1774.1,363.8 1776.4,364.4 1778.6,364.9 1780.8,365.4 1783.1,366.0 1785.3,366.5 1787.5,367.0 1789.7,367.6 1791.9,368.2 1794.1,368.8 1796.3,369.5 1798.5,370.1 1800.7,370.8 1802.9,371.5 1805.1,372.2 1807.3,372.9 1809.5,373.6 1811.7,374.3 1813.9,375.0 1816.0,375.7 1818.2,376.5 1820.3,377.3 1822.5,378.2 1824.6,379.1 1826.7,380.0 1828.8,381.0 1830.9,381.9 1833.0,382.8 1835.1,383.7 1837.2,384.6 1839.3,385.6 1841.3,386.5 1843.4,387.5 1845.4,388.5 1847.4,389.5 1849.4,390.6 1851.5,391.7 1853.5,392.8 1855.7,394.0 1858.1,395.4 1860.8,396.9 1863.6,398.5 1866.2,400.0 1868.4,401.3 1870.0,402.2" fill="none" stroke="#ff0000" stroke-width="2.1" stroke-dasharray="0.01 6.85" stroke-linejoin="round" stroke-linecap="round"/>
<polyline points="936.6,13.2 937.2,13.6 938.0,14.1 938.9,14.7 940.0,15.3 941.0,16.0 942.1,16.6 943.2,17.2 944.3,17.7 945.5,18.3 946.7,18.8 947.9,19.4 949.1,19.9 950.3,20.4 951.5,21.0 952.6,21.5 953.8,22.0 955.0,22.6 956.2,23.2 957.4,23.8 958.6,24.5 959.8,25.2 960.9,25.9 962.1,26.7 963.3,27.4 964.5,28.1 965.7,28.9 966.9,29.7 968.1,30.5 969.2,31.2 970.3,31.9 971.3,32.5 972.1,33.1 973.0,33.7 973.8,34.3 974.6,34.9 975.4,35.5 976.2,36.1 976.9,36.7 977.6,37.4 978.4,38.1 979.4,38.9 980.5,39.9 981.9,41.1 983.5,42.4 985.2,43.9 987.0,45.4 988.8,47.0 990.5,48.6 992.0,50.1 993.4,51.4 994.8,52.8 996.3,54.4 998.2,56.3 1000.6,58.6 1003.8,61.7 1007.6,65.4 1011.8,69.5 1016.0,73.5 1019.7,77.1 1022.7,79.8 1024.7,81.6 1026.0,82.6 1027.0,83.2 1027.8,83.6 1028.7,84.2 1030.2,85.2 1032.1,86.7 1034.3,88.3 1036.7,90.1 1039.2,92.0 1041.7,94.0 1044.2,96.0 1046.6,97.9 1048.8,99.7 1051.1,101.6 1053.6,103.6 1056.5,106.0 1060.0,108.9 1064.4,112.4 1069.5,116.6 1075.0,121.1 1080.6,125.7 1086.0,130.0 1090.7,133.9 1094.8,137.3 1098.5,140.6 1102.0,143.6 1105.3,146.5 1108.5,149.1 1111.7,151.7 1114.8,154.0 1117.8,156.0 1120.6,157.9 1123.4,159.7 1126.4,161.7 1129.5,163.8 1132.8,166.2 1136.1,168.6 1139.5,171.2 1143.0,173.8 1146.7,176.5 1150.5,179.2 1154.6,181.9 1158.9,184.7 1163.3,187.5 1167.9,190.4 1172.4,193.4 1176.9,196.4 1181.4,199.6 1186.1,202.9 1190.7,206.3 1195.3,209.7 1199.7,212.9 1203.8,215.9 1207.5,218.6 1210.9,221.1 1214.1,223.4 1217.3,225.8 1220.6,228.2 1224.0,230.8 1227.2,233.3 1229.9,235.6 1232.7,237.9 1236.1,240.7 1240.7,244.2 1246.9,248.9 1255.8,255.4 1267.0,263.5 1279.4,272.4 1291.7,281.2 1302.7,289.0 1311.0,295.0 1316.4,298.9 1319.7,301.4 1321.7,302.9 1323.0,304.0 1324.3,304.9 1326.2,306.3 1328.6,308.0 1330.9,309.6 1333.2,311.1 1335.5,312.6 1337.7,314.1 1340.0,315.7 1342.3,317.3 1344.5,318.9 1346.8,320.5 1349.0,322.2 1351.3,323.8 1353.5,325.4 1355.7,327.0 1358.0,328.5 1360.2,330.1 1362.5,331.6 1364.7,333.2 1366.9,334.8 1369.1,336.4 1371.3,338.0 1373.4,339.7 1375.6,341.3 1377.8,343.0 1380.0,344.7 1382.2,346.4 1384.5,348.2 1386.7,350.0 1389.0,351.8 1391.3,353.7 1393.5,355.5 1395.8,357.4 1398.2,359.5 1400.5,361.5 1402.8,363.5 1405.0,365.3 1406.9,366.9 1408.4,368.1 1409.6,368.8 1410.6,369.5 1411.7,370.1 1413.1,371.0 1415.0,372.3 1417.6,374.1 1420.7,376.3 1424.1,378.8 1427.5,381.3 1430.8,383.7 1433.8,385.8 1436.4,387.7 1438.7,389.4 1440.9,391.1 1443.0,392.7 1445.1,394.3 1447.3,395.9 1449.6,397.6 1452.0,399.2 1454.3,400.9 1456.6,402.5 1458.8,404.0 1460.8,405.3 1462.5,406.4 1463.9,407.2 1465.2,407.9 1466.6,408.6 1468.1,409.6 1470.0,410.8 1472.3,412.4 1474.9,414.3 1477.6,416.3 1480.5,418.5 1483.3,420.6 1486.1,422.6 1488.8,424.5 1491.6,426.5 1494.4,428.4 1497.1,430.3 1499.8,432.1 1502.3,433.9 1504.7,435.6 1507.0,437.4 1509.2,439.0 1511.3,440.6 1513.3,442.2 1515.2,443.6 1517.1,445.0 1519.0,446.4 1520.9,447.7 1522.5,448.9 1523.9,449.9 1524.9,450.6" fill="none" stroke="#0000ff" stroke-width="1.6" stroke-linejoin="round" transform="translate(0.3,-0.3)"/>
<polyline points="1524.9,450.6 1535.1,458.7" fill="none" stroke="#0000ff" stroke-width="1.6" stroke-linejoin="round"/>
<polyline points="936.6,13.2 937.2,13.6 938.0,14.1 938.9,14.7 940.0,15.3 941.0,16.0 942.1,16.6 943.2,17.2 944.3,17.7 945.5,18.3 946.7,18.8 947.9,19.4 949.1,19.9 950.3,20.4 951.5,21.0 952.6,21.5 953.8,22.0 955.0,22.6 956.2,23.2 957.4,23.8 958.6,24.5 959.8,25.2 960.9,25.9 962.1,26.7 963.3,27.4 964.5,28.1 965.7,28.9 966.9,29.7 968.1,30.5 969.2,31.2 970.3,31.9 971.3,32.5 972.1,33.1 973.0,33.7 973.8,34.3 974.6,34.9 975.4,35.5 976.2,36.1 976.9,36.7 977.6,37.4 978.4,38.1 979.4,38.9 980.5,39.9 981.9,41.1 983.5,42.4 985.2,43.9 987.0,45.4 988.8,47.0 990.5,48.6 992.0,50.1 993.4,51.4 994.8,52.8 996.3,54.4 998.2,56.3 1000.6,58.6 1003.8,61.7 1007.6,65.4 1011.8,69.5 1016.0,73.5 1019.7,77.1 1022.7,79.8 1024.7,81.6 1026.0,82.6 1027.0,83.2 1027.8,83.6 1028.7,84.2 1030.2,85.2 1032.1,86.7 1034.3,88.3 1036.7,90.1 1039.2,92.0 1041.7,94.0 1044.2,96.0 1046.6,97.9 1048.8,99.7 1051.1,101.6 1053.6,103.6 1056.5,106.0 1060.0,108.9 1064.4,112.4 1069.5,116.6 1075.0,121.1 1080.6,125.7 1086.0,130.0 1090.7,133.9 1094.8,137.3 1098.5,140.6 1102.0,143.6 1105.3,146.5 1108.5,149.1 1111.7,151.7 1114.8,154.0 1117.8,156.0 1120.6,157.9 1123.4,159.7 1126.4,161.7 1129.5,163.8 1132.8,166.2 1136.1,168.6 1139.5,171.2 1143.0,173.8 1146.7,176.5 1150.5,179.2 1154.6,181.9 1158.9,184.7 1163.3,187.5 1167.9,190.4 1172.4,193.4 1176.9,196.4 1181.4,199.6 1186.1,202.9 1190.7,206.3 1195.3,209.7 1199.7,212.9 1203.8,215.9 1207.5,218.6 1210.9,221.1 1214.1,223.4 1217.3,225.8 1220.6,228.2 1224.0,230.8 1227.2,233.3 1229.9,235.6 1232.7,237.9 1236.1,240.7 1240.7,244.2 1246.9,248.9 1255.8,255.4 1267.0,263.5 1279.4,272.4 1291.7,281.2 1302.7,289.0 1311.0,295.0 1316.4,298.9 1319.7,301.4 1321.7,302.9 1323.0,304.0 1324.3,304.9 1326.2,306.3 1328.6,308.0 1330.9,309.6 1333.2,311.1 1335.5,312.6 1337.7,314.1 1340.0,315.7 1342.3,317.3 1344.5,318.9 1346.8,320.5 1349.0,322.2 1351.3,323.8 1353.5,325.4 1355.7,327.0 1358.0,328.5 1360.2,330.1 1362.5,331.6 1364.7,333.2 1366.9,334.8 1369.1,336.4 1371.3,338.0 1373.4,339.7 1375.6,341.3 1377.8,343.0 1380.0,344.7 1382.2,346.4 1384.5,348.2 1386.7,350.0 1389.0,351.8 1391.3,353.7 1393.5,355.5 1395.8,357.4 1398.2,359.5 1400.5,361.5 1402.8,363.5 1405.0,365.3 1406.9,366.9 1408.4,368.1 1409.6,368.8 1410.6,369.5 1411.7,370.1 1413.1,371.0 1415.0,372.3 1417.6,374.1 1420.7,376.3 1424.1,378.8 1427.5,381.3 1430.8,383.7 1433.8,385.8 1436.4,387.7 1438.7,389.4 1440.9,391.1 1443.0,392.7 1445.1,394.3 1447.3,395.9 1449.6,397.6 1452.0,399.2 1454.3,400.9 1456.6,402.5 1458.8,404.0 1460.8,405.3 1462.5,406.4 1463.9,407.2 1465.2,407.9 1466.6,408.6 1468.1,409.6 1470.0,410.8 1472.3,412.4 1474.9,414.3 1477.6,416.3 1480.5,418.5 1483.3,420.6 1486.1,422.6 1488.8,424.5 1491.6,426.5 1494.4,428.4 1497.1,430.3 1499.8,432.1 1502.3,433.9 1504.7,435.6 1507.0,437.4 1509.2,439.0 1511.3,440.6 1513.3,442.2 1515.2,443.6 1517.1,445.0 1519.0,446.4 1520.9,447.7 1522.5,448.9 1523.9,449.9 1524.9,450.6" fill="none" stroke="#ff0000" stroke-width="1.6" stroke-linejoin="round"/>
<polyline points="1551.6,458.2 1553.0,457.5 1555.1,456.4 1557.4,455.2 1560.0,453.9 1562.5,452.5 1564.8,451.2 1566.9,449.9 1568.9,448.6 1570.9,447.2 1572.9,445.8 1574.9,444.4 1576.9,443.1 1579.0,441.8 1581.2,440.4 1583.4,439.0 1585.5,437.7 1587.6,436.5 1589.5,435.4 1591.2,434.5 1592.7,433.7 1594.1,432.9 1595.6,432.3 1597.2,431.8 1599.2,431.3 1601.6,430.9 1604.5,430.6 1607.5,430.4 1610.5,430.2 1613.4,430.1 1615.9,430.0 1618.0,429.9 1619.8,429.8 1621.5,429.8 1623.1,429.8 1624.9,429.9 1627.0,430.1 1629.5,430.4 1632.2,430.8 1635.1,431.2 1637.9,431.8 1640.7,432.3 1643.1,432.8 1645.2,433.3 1646.9,433.8 1648.5,434.3 1650.1,434.8 1651.9,435.4 1653.9,436.1 1656.3,436.9 1658.9,437.7 1661.7,438.6 1664.5,439.6 1667.2,440.4 1669.5,441.2 1671.5,441.9 1673.1,442.4 1674.6,443.0 1676.1,443.5 1677.8,444.1 1679.8,444.7 1682.2,445.4 1684.9,446.2 1687.8,447.0 1690.7,447.8 1693.5,448.5 1695.9,449.2 1697.9,449.8 1699.7,450.3 1701.2,450.8 1702.8,451.2 1704.5,451.8 1706.5,452.4 1708.9,453.2 1711.5,454.1 1714.3,455.0 1717.1,455.9 1719.8,456.8 1722.1,457.6 1724.1,458.2 1725.7,458.8 1727.2,459.2 1728.7,459.7 1730.3,460.3 1732.3,461.0 1734.6,461.9 1737.3,463.0 1740.1,464.2 1742.9,465.4 1745.5,466.5 1747.9,467.5 1749.9,468.3 1751.5,469.0 1753.0,469.6 1754.5,470.2 1756.2,470.9 1758.1,471.8 1760.4,472.9 1763.0,474.1 1765.7,475.5 1768.5,476.8 1771.0,478.1 1773.2,479.3 1775.0,480.3 1776.4,481.1 1777.7,481.9 1778.9,482.7 1780.3,483.6 1782.0,484.7 1784.1,486.0 1786.5,487.6 1789.1,489.2 1791.7,490.9 1794.1,492.5 1796.2,493.9 1797.9,495.1 1799.3,496.0 1800.6,496.9 1801.9,497.9 1803.3,498.9 1804.9,500.2 1806.9,501.8 1809.2,503.6 1811.6,505.5 1813.9,507.5 1816.2,509.3 1818.1,511.0 1819.7,512.4 1820.9,513.6 1822.0,514.7 1823.1,515.8 1824.3,517.0 1825.8,518.4 1827.6,520.1 1829.7,522.0 1831.9,524.0 1834.1,526.1 1836.2,528.0 1837.9,529.8 1839.3,531.3 1840.3,532.6 1841.3,533.7 1842.1,535.0 1843.1,536.4 1844.3,538.1 1845.8,540.2 1847.4,542.7 1849.2,545.4 1850.9,548.0 1852.5,550.5 1853.8,552.7 1854.8,554.4 1855.6,555.7 1856.2,556.9 1856.7,558.1 1857.2,559.5 1857.8,561.4 1858.5,563.7 1859.2,566.5 1859.9,569.4 1860.5,572.4 1861.0,575.4 1861.4,578.2 1861.6,580.9 1861.7,583.5 1861.6,586.1 1861.5,588.6 1861.3,591.1 1861.0,593.5 1860.6,595.9 1860.0,598.5 1859.4,600.9 1858.7,603.1 1858.2,605.0 1857.8,606.4" fill="none" stroke="#0000ff" stroke-width="1.6" stroke-dasharray="16.5 11" stroke-linejoin="round"/>
<polyline points="1540.5,450.2 1542.1,449.3 1544.3,448.0 1547.0,446.5 1549.8,444.9 1552.4,443.4 1554.7,442.1 1556.5,441.0 1558.2,440.1 1559.7,439.3 1561.1,438.4 1562.7,437.5 1564.5,436.3 1566.5,434.8 1568.7,433.1 1571.0,431.3 1573.3,429.5 1575.6,427.9 1577.7,426.5 1579.7,425.4 1581.5,424.5 1583.3,423.7 1585.1,423.0 1587.0,422.4 1589.0,421.9 1591.2,421.4 1593.5,421.1 1595.9,420.8 1598.3,420.6 1600.7,420.5 1603.1,420.3 1605.4,420.1 1607.8,420.0 1610.1,419.9 1612.5,419.8 1614.8,419.8 1617.2,419.9 1619.6,420.1 1622.2,420.4 1624.7,420.8 1627.2,421.3 1629.6,421.7 1631.8,422.1 1633.8,422.5 1635.5,422.8 1637.1,423.1 1638.8,423.5 1640.6,424.0 1642.6,424.5 1645.0,425.2 1647.6,425.9 1650.4,426.8 1653.2,427.6 1655.8,428.4 1658.2,429.1 1660.2,429.7 1662.0,430.2 1663.6,430.6 1665.2,431.1 1666.9,431.6 1669.0,432.1 1671.4,432.7 1674.0,433.3 1676.8,434.0 1679.6,434.7 1682.4,435.4 1685.1,436.1 1687.7,436.8 1690.3,437.6 1692.8,438.4 1695.3,439.2 1697.7,439.9 1700.0,440.5 1702.2,441.0 1704.2,441.5 1706.2,441.8 1708.1,442.2 1710.0,442.6 1711.8,443.0 1713.5,443.4 1715.1,443.9 1716.7,444.3 1718.3,444.7 1720.1,445.3 1722.1,445.9 1724.5,446.6 1727.3,447.5 1730.2,448.4 1733.1,449.4 1735.8,450.3 1738.2,451.1 1740.2,451.8 1741.8,452.4 1743.2,453.0 1744.7,453.7 1746.3,454.3 1748.2,455.1 1750.6,456.0 1753.3,457.0 1756.2,458.1 1759.0,459.2 1761.7,460.3 1764.1,461.2 1766.0,462.0 1767.7,462.7 1769.1,463.3 1770.6,464.0 1772.1,464.7 1773.8,465.6 1775.7,466.7 1777.8,467.9 1780.0,469.2 1782.2,470.6 1784.4,471.9 1786.5,473.2 1788.6,474.4 1790.6,475.5 1792.6,476.6 1794.7,477.7 1796.7,478.8 1798.8,480.0 1801.0,481.3 1803.2,482.7 1805.4,484.2 1807.6,485.6 1809.7,487.0 1811.6,488.3 1813.2,489.4 1814.7,490.4 1816.0,491.2 1817.3,492.2 1818.7,493.2 1820.4,494.5 1822.4,496.1 1824.7,497.9 1827.1,499.9 1829.4,501.8 1831.7,503.7 1833.6,505.3 1835.2,506.6 1836.5,507.7 1837.7,508.7 1838.9,509.7 1840.1,510.8 1841.6,512.3 1843.3,514.1 1845.2,516.3 1847.2,518.6 1849.2,520.9 1851.1,523.1 1852.7,525.1 1854.0,526.7 1855.2,528.1 1856.2,529.3 1857.1,530.5 1858.1,532.0 1859.1,533.8 1860.2,536.0 1861.4,538.6 1862.5,541.4 1863.6,544.2 1864.6,546.9 1865.5,549.3 1866.2,551.3 1866.8,553.1 1867.3,554.7 1867.7,556.3 1868.0,558.0 1868.2,560.1 1868.2,562.7 1868.1,565.7 1867.9,568.8 1867.6,571.8 1867.4,574.4 1867.2,576.2" fill="none" stroke="#ff0000" stroke-width="1.6" stroke-dasharray="16.5 11" stroke-linejoin="round"/>
<g font-size="32.0"><text x="936.50" y="681.8" text-anchor="middle">0</text>
<text x="1040.48" y="681.8" text-anchor="middle">20</text>
<text x="1144.46" y="681.8" text-anchor="middle">40</text>
<text x="1248.43" y="681.8" text-anchor="middle">60</text>
<text x="1352.41" y="681.8" text-anchor="middle">80</text>
<text x="1456.39" y="681.8" text-anchor="middle">100</text>
<text x="1560.37" y="681.8" text-anchor="middle">120</text>
<text x="1664.34" y="681.8" text-anchor="middle">140</text>
<text x="1768.32" y="681.8" text-anchor="middle">160</text>
<text x="1872.30" y="681.8" text-anchor="middle">180</text>
<text x="923.3" y="25.46" text-anchor="end">0</text>
<text x="923.3" y="129.42" text-anchor="end">-20</text>
<text x="923.3" y="233.39" text-anchor="end">-40</text>
<text x="923.3" y="337.36" text-anchor="end">-60</text>
<text x="923.3" y="441.32" text-anchor="end">-80</text>
<text x="923.3" y="545.29" text-anchor="end">-100</text>
<text x="923.3" y="649.26" text-anchor="end">-120</text>
<text x="1404.40" y="729.5" text-anchor="middle" font-size="34.5">Horizontal distance (m)</text>
<text transform="translate(844.2,324.90) rotate(-90)" x="0" y="0" text-anchor="middle" font-size="34.5">Position z/Up</text></g>
<rect x="1584.7" y="35.3" width="265.9" height="165.6" fill="#fff" stroke="#262626" stroke-width="1.1"/>
<rect x="1592.7" y="44.1" width="87.3" height="27.6" fill="#dfdfdf"/>
<line x1="1594.05" y1="99.5" x2="1678" y2="99.5" stroke="#ff0000" stroke-width="2.2" stroke-linecap="round" stroke-dasharray="0.01 6.9"/>
<line x1="1593.2" y1="141" x2="1679" y2="141" stroke="#0000ff" stroke-width="1.3"/>
<line x1="1593.2" y1="178.1" x2="1679" y2="178.1" stroke="#ff0000" stroke-width="1.3"/>
<g font-size="29"><text x="1686.5" y="68.8" style="fill:#000">Reference</text><text x="1686.5" y="113.6" style="fill:#000">Rotated 6<tspan font-size="23" dy="-12.3">°</tspan></text><text x="1686.5" y="151.2" style="fill:#000">w/ excentr.</text><text x="1686.5" y="188.7" style="fill:#000">w/o excentr.</text></g>
</svg></body></html>
